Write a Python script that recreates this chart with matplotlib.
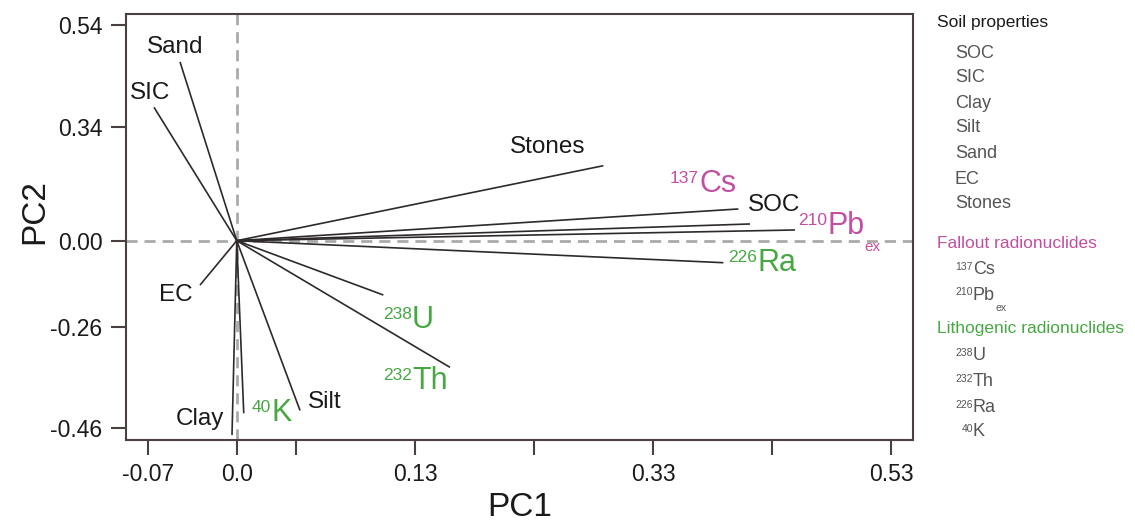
import matplotlib
matplotlib.use("Agg")
import matplotlib.pyplot as plt

plt.rcParams['font.family'] = ['Liberation Sans', 'DejaVu Sans']

# ---- data (PCA loadings, linear axis units) ----
variables = ["Sand", "SIC", "EC", "Clay", "40K", "Silt", "238U", "232Th",
             "Stones", "137Cs", "SOC", "210Pbex", "226Ra"]
pc1 = [-0.0454, -0.0662, -0.0294, -0.0038, 0.0056, 0.0506, 0.1173, 0.1706,
       0.2933, 0.4013, 0.4106, 0.4466, 0.3893]
pc2 = [0.447, 0.3335, -0.111, -0.486, -0.4315, -0.4243, -0.1358, -0.3166,
       0.1875, 0.0793, 0.0418, 0.0268, -0.055]
groups = ["soil", "soil", "soil", "soil", "litho", "soil", "litho", "litho",
          "soil", "fallout", "soil", "fallout", "litho"]

xtick_pos = [-0.0707, 0.0, 0.0472, 0.1426, 0.2378, 0.3331, 0.4284, 0.5237]
xtick_labels = ["-0.07", "0.0", "", "0.13", "", "0.33", "", "0.53"]
ytick_pos = [0.539, 0.285, 0.0, -0.215, -0.4675]
ytick_labels = ["0.54", "0.34", "0.00", "-0.26", "-0.46"]

legend_soil = ["SOC", "SIC", "Clay", "Silt", "Sand", "EC", "Stones"]
legend_fallout = [("137", "Cs", ""), ("210", "Pb", "ex")]
legend_litho = [("238", "U", ""), ("232", "Th", ""), ("226", "Ra", ""), ("40", "K", "")]

# ---- style ----
PINK = "#c24f9f"
GREEN = "#47a843"
TXT = "#1a1a1a"
GRAY = "#555555"
colors = {"soil": TXT, "fallout": PINK, "litho": GREEN}

W, H = 1135, 523
fig = plt.figure(figsize=(W / 100, H / 100), dpi=100)
ax = fig.add_axes([126 / W, 1 - 439.5 / H, (913 - 126) / W, (439.5 - 13.5) / H])

ax.set_xlim(-0.0886, 0.5410)
ax.set_ylim(-0.497, 0.568)

ax.axhline(0, color="#aaaaaa", lw=2, dashes=(4, 2.5), zorder=1)
ax.axvline(0, color="#aaaaaa", lw=2, dashes=(4, 2.5), zorder=1)

for x, y in zip(pc1, pc2):
    ax.plot([0, x], [0, y], color="#2e2a2a", lw=1.2, zorder=2, solid_capstyle="butt")

# label layout (px in the reference converted to data coords)
def dx(px):
    return (px - 236.7) / 1250.0

def dy(py):
    return (240.7 - py) / 400.0

plain_labels = {
    "Sand": (175, 47), "SIC": (150, 93), "EC": (176, 295), "Clay": (200, 419),
    "Silt": (325, 402), "Stones": (548, 147), "SOC": (774, 205),
}
for name, (px, py) in plain_labels.items():
    ax.text(dx(px), dy(py), name, ha="center", va="center", fontsize=17.5, color=TXT, zorder=3)

sup_labels = {
    "137Cs": ("137", "Cs", "", 699, 184),
    "210Pbex": ("210", "Pb", "ex", 827, 226),
    "226Ra": ("226", "Ra", "", 757, 263),
    "238U": ("238", "U", "", 412, 320),
    "232Th": ("232", "Th", "", 412, 381),
    "40K": ("40", "K", "", 271, 413),
}
for v, g in zip(variables, groups):
    if v in sup_labels:
        sup, main, sub, px, py = sup_labels[v]
        c = colors[g]
        t = ax.text(dx(px), dy(py), main, ha="left", va="center", fontsize=22, color=c, zorder=3)
        ax.annotate(sup, xy=(0, 0.93), xycoords=t, ha="right", va="top", fontsize=12.5, color=c)
        if sub:
            ax.annotate(sub, xy=(1.0, 0.02), xycoords=t, ha="left", va="top", fontsize=11, color=c)

ax.set_xticks(xtick_pos)
ax.set_xticklabels(xtick_labels)
ax.set_yticks(ytick_pos)
ax.set_yticklabels(ytick_labels)
ax.tick_params(direction="out", length=11, width=1.5, colors="#4a4040", labelsize=16.5,
               labelcolor=TXT, pad=6)
for s in ax.spines.values():
    s.set_color("#4a4040")
    s.set_linewidth(1.5)

ax.set_xlabel("PC1", fontsize=24, color=TXT, labelpad=4)
ax.set_ylabel("PC2", fontsize=24, color=TXT)
ax.yaxis.set_label_coords((50 - 126) / 787, (439.5 - 212) / 426)

# ---- legend as text ----
def ftext(px, py, s, **kw):
    return fig.text(px / W, 1 - py / H, s, va="center", ha="left", **kw)

ftext(937, 22, "Soil properties", fontsize=12.5, color=TXT)
soil_y = [53, 78, 103, 128, 153, 179, 204]
for name, py in zip(legend_soil, soil_y):
    ftext(955, py, name, fontsize=13, color=GRAY)

ftext(937, 243, "Fallout radionuclides", fontsize=12.5, color=PINK)
ftext(937, 329, "Lithogenic radionuclides", fontsize=12.5, color=GREEN)

def legend_sup(px, py, sup, main, sub):
    t = ftext(px, py, main, fontsize=13, color=GRAY)
    ax.annotate(sup, xy=(0, 0.95), xycoords=t, ha="right", va="top", fontsize=7.5, color=GRAY,
                annotation_clip=False)
    if sub:
        ax.annotate(sub, xy=(1.02, 0.05), xycoords=t, ha="left", va="top", fontsize=7.5,
                    color=GRAY, annotation_clip=False)

fall_y = [270, 295]
for (sup, main, sub), py in zip(legend_fallout, fall_y):
    legend_sup(973, py, sup, main, sub)
litho_y = [356, 382, 408, 432]
for (sup, main, sub), py in zip(legend_litho, litho_y):
    legend_sup(973, py, sup, main, sub)

fig.savefig("out.png", dpi=100, facecolor="white")
